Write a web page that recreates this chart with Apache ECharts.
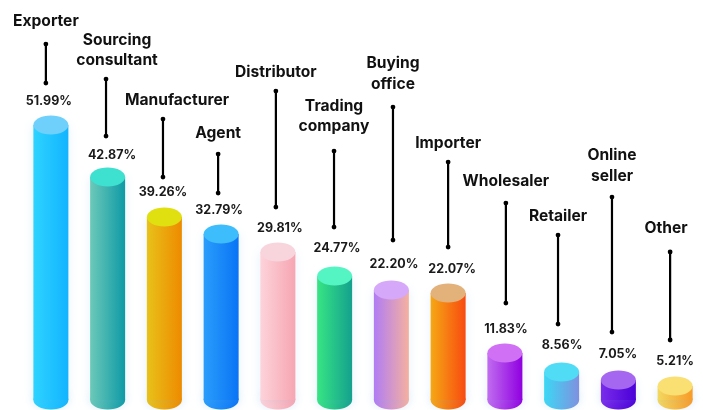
<!DOCTYPE html>
<html><head><meta charset="utf-8">
<style>html,body{margin:0;padding:0;background:#fff}#c{width:703px;height:410px}</style>
<script src="https://cdn.jsdelivr.net/npm/echarts@6/dist/echarts.min.js"></script>
</head><body><div id="c"></div>
<script>
const categories = ['Exporter','Sourcing\nconsultant','Manufacturer','Agent','Distributor','Trading\ncompany','Buying\noffice','Importer','Wholesaler','Retailer','Online\nseller','Other'];
const printedValues = [51.99,42.87,39.26,32.79,29.81,24.77,22.20,22.07,11.83,8.56,7.05,5.21];
const drawnValues = [51.97,42.65,35.48,32.44,29.2,24.9,22.4,21.86,11.1,7.7,6.27,5.2];

// annotation layout, in pixels relative to each cylinder's top
const pctDx = [-2,4.4,-1.4,-2,2,2.4,2.6,4,1,0.4,-0.4,0];
const pctDy = [-24,-22,-25,-24,-24,-28,-26,-24,-24,-27,-26,-25];
const leaderDx = [-5,-1.6,-1.4,-3,-2,-0.6,1.6,0,1,-3.6,-6.4,-5];
const leaderGap = [42,41,40,41,45,49,50,46,50,48,48,46];
const leaderLen = [39,57,58,39,116,76,133,85,100,89,135,88];
const titleDx = [0,11,14,0,0,0,0,0,0,0,0,-4];
const titleGap = [23,19,19,21,19,25,23,19,22,19,21,24];

const sideLeft = ['#2ed3ff','#6cc9b8','#e8c21a','#2a9dfb','#fdd3da','#37e583','#b07cf5','#f5a815','#c06cf0','#3bd8f5','#7a2cea','#f2d860'];
const sideRight = ['#12b4ff','#0e9aa6','#ee8a00','#0a74f5','#f6a6b2','#14a08e','#f5b0a0','#f84a10','#9000e0','#8090e0','#4a00d8','#f89a28'];
const capColor = ['#6fd0fb','#3ee0d0','#e0e010','#3dbdfc','#f8d5dc','#55f5c3','#d5a8fa','#e3b27a','#d070f5','#50dcf5','#a566f0','#fadf72'];

const baseValue = 2.7, rx = 17.5, ry = 9.5;
const fontFamily = 'Inter, Lato, sans-serif';

function renderItem(params, api) {
  const i = params.dataIndex;
  const top = api.coord([i, api.value(1)]);
  const base = api.coord([i, baseValue]);
  const cx = top[0], ty = top[1], by = base[1];
  const fill = {type:'linear',x:0,y:0,x2:1,y2:0,colorStops:[{offset:0,color:sideLeft[i]},{offset:1,color:sideRight[i]}]};
  const lx = cx + leaderDx[i], lb = ty - leaderGap[i], lt = lb - leaderLen[i];
  const lines = categories[i].split('\n').length;
  return {type:'group',children:[
    {type:'ellipse',shape:{cx:cx,cy:by,rx:rx,ry:ry},style:{fill:fill,shadowBlur:10,shadowColor:'rgba(120,180,230,0.22)'}},
    {type:'rect',shape:{x:cx-rx,y:ty,width:rx*2,height:by-ty},style:{fill:fill,shadowBlur:10,shadowColor:'rgba(120,180,230,0.18)'}},
    {type:'ellipse',shape:{cx:cx,cy:ty,rx:rx,ry:ry},style:{fill:capColor[i]}},
    {type:'line',shape:{x1:lx,y1:lt,x2:lx,y2:lb},style:{stroke:'#000',lineWidth:2.2}},
    {type:'circle',shape:{cx:lx,cy:lt,r:2.4},style:{fill:'#000'}},
    {type:'circle',shape:{cx:lx,cy:lb,r:2.4},style:{fill:'#000'}},
    {type:'text',x:cx+pctDx[i],y:ty+pctDy[i],style:{text:printedValues[i].toFixed(2)+'%',fill:'#1a1a1a',font:'700 12.5px '+fontFamily,align:'center',verticalAlign:'middle'}},
    {type:'text',x:lx+titleDx[i],y:lt-titleGap[i]+(lines>1?-10:0),style:{text:categories[i],fill:'#111',font:'700 15.6px '+fontFamily,lineHeight:20.5,align:'center',verticalAlign:'middle'}}
  ]};
}

const chart = echarts.init(document.getElementById('c'), null, {renderer:'canvas'});
chart.setOption({
  animation:false,
  backgroundColor:'#fff',
  grid:{left:22.5,width:681,top:0,height:415,outerBoundsMode:'none'},
  xAxis:{type:'category',data:categories,show:false},
  yAxis:{type:'value',min:0,max:74.4,show:false},
  series:[{type:'custom',clip:false,renderItem:renderItem,encode:{x:0,y:1},
    data:drawnValues.map((v,i)=>[i,v])}]
});
</script></body></html>
